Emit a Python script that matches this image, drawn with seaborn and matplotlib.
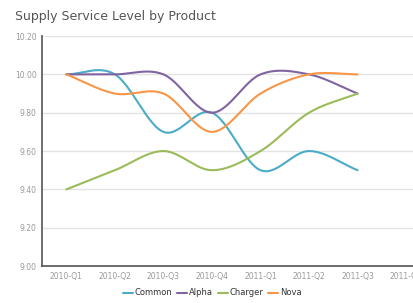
import numpy as np
import matplotlib
matplotlib.use('Agg')
import matplotlib.pyplot as plt
import seaborn as sns
import pandas as pd

quarters = ['2010-Q1', '2010-Q2', '2010-Q3', '2010-Q4',
            '2011-Q1', '2011-Q2', '2011-Q3', '2011-Q4']

common = [10.00, 10.00, 9.70, 9.80, 9.50, 9.60, 9.50]
alpha = [10.00, 10.00, 10.00, 9.80, 10.00, 10.00, 9.90]
charger = [9.40, 9.50, 9.60, 9.50, 9.60, 9.80, 9.90]
nova = [10.00, 9.90, 9.90, 9.70, 9.90, 10.00, 10.00]

series = {'Common': common, 'Alpha': alpha, 'Charger': charger, 'Nova': nova}
colors = {'Common': '#4bacc6', 'Alpha': '#8064a2',
          'Charger': '#9bbb59', 'Nova': '#f79646'}


def smooth(ys, steps=30):
    # Catmull-Rom style curve through the points
    ys = np.asarray(ys, dtype=float)
    n = len(ys)
    tang = np.zeros(n)
    for i in range(n):
        if i == 0:
            tang[i] = ys[1] - ys[0]
        elif i == n - 1:
            tang[i] = ys[-1] - ys[-2]
        else:
            tang[i] = (ys[i + 1] - ys[i - 1]) / 2
    xs_out, ys_out = [], []
    for i in range(n - 1):
        t = np.linspace(0, 1, steps, endpoint=(i == n - 2))
        h00 = 2 * t**3 - 3 * t**2 + 1
        h10 = t**3 - 2 * t**2 + t
        h01 = -2 * t**3 + 3 * t**2
        h11 = t**3 - t**2
        ys_out.append(h00 * ys[i] + h10 * tang[i] + h01 * ys[i + 1] + h11 * tang[i + 1])
        xs_out.append(i + t)
    return np.concatenate(xs_out), np.concatenate(ys_out)


rows = []
for name, vals in series.items():
    xs, ys = smooth(vals)
    rows.append(pd.DataFrame({'x': xs, 'y': ys, 'product': name}))
df = pd.concat(rows, ignore_index=True)

sns.set_style('white')
plt.rcParams['font.family'] = ['DejaVu Sans']

fig = plt.figure(figsize=(4.13, 3.03), dpi=100)
ax = fig.add_axes([0.102, 0.122, 0.94, 0.759])

sns.lineplot(data=df, x='x', y='y', hue='product', palette=colors,
             linewidth=1.5, ax=ax, legend=True)

ax.set_xlim(-0.5, 7.5)
ax.set_ylim(9.0, 10.2)
ax.set_xticks(range(len(quarters)))
ax.set_xticklabels(quarters)
ax.set_yticks(np.arange(9.0, 10.21, 0.2))
ax.set_yticklabels(['%.2f' % v for v in np.arange(9.0, 10.21, 0.2)])
ax.tick_params(axis='both', labelsize=5.5, colors='#999999', length=0, pad=4)
ax.yaxis.grid(True, color='#e3e3e3', linewidth=1)
ax.set_xlabel('')
ax.set_ylabel('')

for side in ['top', 'right']:
    ax.spines[side].set_visible(False)
ax.spines['left'].set_color('#555555')
ax.spines['bottom'].set_color('#555555')
ax.spines['left'].set_linewidth(1.2)
ax.spines['bottom'].set_linewidth(1.2)

handles, labels = ax.get_legend_handles_labels()
ax.legend(handles, labels, loc='center', bbox_to_anchor=(0.438, -0.117),
          ncol=4, frameon=False, fontsize=6, handlelength=1.2,
          handletextpad=0.2, columnspacing=0.6, labelcolor='#333333',
          borderpad=0)

fig.text(0.036, 0.945, 'Supply Service Level by Product', fontsize=9,
         color='#555555', va='center', ha='left')

fig.savefig('out.png', dpi=100)
